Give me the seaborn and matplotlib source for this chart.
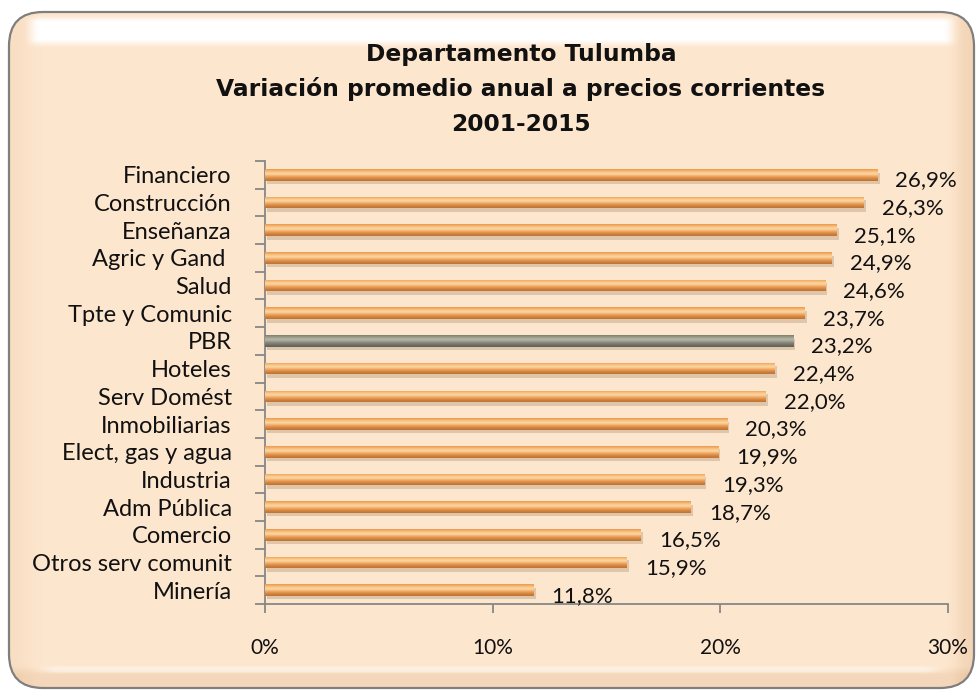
"""Horizontal bar chart: average annual variation by sector, Departamento Tulumba."""

from __future__ import annotations

import matplotlib

matplotlib.use("Agg")
import matplotlib.patheffects as pe
import matplotlib.pyplot as plt
import numpy as np
import pandas as pd
import seaborn as sns
from matplotlib.colors import LinearSegmentedColormap, to_rgb
from matplotlib.patches import FancyBboxPatch

SECTORS = [
    "Financiero",
    "Construcción",
    "Enseñanza",
    "Agric y Gand ",
    "Salud",
    "Tpte y Comunic",
    "PBR",
    "Hoteles",
    "Serv Domést",
    "Inmobiliarias",
    "Elect, gas y agua",
    "Industria",
    "Adm Pública",
    "Comercio",
    "Otros serv comunit",
    "Minería",
]
VARIATION = [26.9, 26.3, 25.1, 24.9, 24.6, 23.7, 23.2, 22.4, 22.0, 20.3, 19.9, 19.3, 18.7, 16.5, 15.9, 11.8]
X_TICKS = [0, 10, 20, 30]
TITLE_LINES = [
    "Departamento Tulumba",
    "Variación promedio anual a precios corrientes",
    "2001-2015",
]
HIGHLIGHT = "PBR"

FONT = ["Lato", "DejaVu Sans"]
TITLE_FONT = ["DejaVu Sans"]
PANEL_COLOR = "#FDE6CE"
SHADE_COLOR = "#EBC6A2"
AXIS_GREY = "#878787"
ORANGE_STOPS = ["#EC974A", "#F7BE7C", "#FCDAA8", "#F2A862", "#D5863F", "#B97236"]
GREY_STOPS = ["#7C7C6C", "#A3A394", "#B8B8AA", "#8E8E7E", "#72726A", "#5E5E56"]

W, H = 977, 693


def paint_gradient(axis: plt.Axes, patch, stops: list[str]) -> None:
    """Fill a bar patch with a vertical cylinder-like gradient."""
    cmap = LinearSegmentedColormap.from_list("bar", stops)
    x0, y0 = patch.get_x(), patch.get_y()
    w, h = patch.get_width(), patch.get_height()
    grad = np.linspace(0, 1, 64).reshape(-1, 1)
    img = axis.imshow(
        grad,
        cmap=cmap,
        aspect="auto",
        extent=(x0, x0 + w, y0 + h, y0),
        origin="upper",
        zorder=3,
        interpolation="bicubic",
    )
    img.set_clip_path(patch)
    patch.set_facecolor("none")
    patch.set_edgecolor("none")
    patch.set_path_effects(
        [pe.SimplePatchShadow(offset=(1.5, -2.5), shadow_rgbFace="#A88866", alpha=0.35), pe.Normal()]
    )


def ramp(v: np.ndarray, start: float, end: float) -> np.ndarray:
    """0 at start, 1 at end, clipped, smooth."""
    t = np.clip((v - start) / (end - start), 0, 1)
    return t * t * (3 - 2 * t)


def draw_panel(fig: plt.Figure) -> None:
    """Rounded peach chart area with a soft bevel like the office chart frame."""
    bg = fig.add_axes([0, 0, 1, 1], zorder=-5)
    bg.set_xlim(0, W)
    bg.set_ylim(H, 0)
    bg.axis("off")

    yy, xx = np.mgrid[0:H, 0:W].astype(float)
    dark = 0.55 * ramp(xx, 945, 972) + 0.25 * ramp(-xx, -42, -12) + 0.45 * ramp(yy, 664, 676)
    dark = np.clip(dark, 0, 1)
    light = ramp(yy, 14, 22) * ramp(-yy, -48, -38) * ramp(xx, 22, 40) * ramp(-xx, -960, -942)
    light = np.maximum(light, 0.5 * ramp(yy, 664, 668) * ramp(-yy, -674, -670) * ramp(xx, 30, 60) * ramp(-xx, -950, -920))

    base = np.array(to_rgb(PANEL_COLOR))
    shade = np.array(to_rgb(SHADE_COLOR))
    rgb = base * (1 - dark[..., None]) + shade * dark[..., None]
    rgb = rgb * (1 - light[..., None]) + light[..., None]

    panel = FancyBboxPatch(
        (9, 12), 965, 676,
        boxstyle="round,pad=0,rounding_size=34",
        facecolor="none", edgecolor="#7F7F7F", linewidth=1.6, zorder=2,
    )
    bg.add_patch(panel)
    img = bg.imshow(rgb, extent=(0, W, H, 0), interpolation="bilinear", zorder=1)
    img.set_clip_path(panel)


def main() -> None:
    sns.set_theme(style="white")
    plt.rcParams["font.family"] = FONT

    data = pd.DataFrame({"sector": SECTORS, "variation": VARIATION})

    fig = plt.figure(figsize=(W / 100, H / 100), dpi=100)
    fig.patch.set_facecolor("white")
    draw_panel(fig)

    axis = fig.add_axes([265 / W, 1 - 604 / H, 683 / W, 443 / H])
    axis.set_facecolor("none")

    sns.barplot(
        data=data,
        x="variation",
        y="sector",
        order=SECTORS,
        orient="h",
        width=0.42,
        color="#EDA464",
        ax=axis,
    )

    for patch, name, value in zip(axis.patches, SECTORS, VARIATION):
        stops = GREY_STOPS if name == HIGHLIGHT else ORANGE_STOPS
        paint_gradient(axis, patch, stops)
        axis.annotate(
            f"{value:.1f}%".replace(".", ","),
            xy=(value, patch.get_y() + patch.get_height() / 2),
            xytext=(13, -4),
            textcoords="offset points",
            ha="left",
            va="center",
            fontsize=16,
            color="#111111",
        )

    axis.set_xlim(0, 30)
    axis.set_ylim(len(SECTORS) - 0.5, -0.5)
    axis.set_xticks(X_TICKS)
    axis.set_xticklabels([f"{t}%" for t in X_TICKS], fontsize=15, color="#111111")
    axis.tick_params(axis="x", direction="out", length=6.5, width=1.3, color=AXIS_GREY, pad=18, bottom=True)

    axis.set_yticks(range(len(SECTORS)))
    axis.set_yticklabels(SECTORS, fontsize=17, color="#111111")
    axis.tick_params(axis="y", which="major", length=0, pad=24)
    axis.set_yticks(np.arange(-0.5, len(SECTORS)), minor=True)
    axis.tick_params(axis="y", which="minor", direction="out", length=7, width=1.3, color=AXIS_GREY, left=True)

    for side in ["top", "right"]:
        axis.spines[side].set_visible(False)
    for side in ["left", "bottom"]:
        axis.spines[side].set_color(AXIS_GREY)
        axis.spines[side].set_linewidth(1.3)
    axis.set_xlabel("")
    axis.set_ylabel("")

    for line, baseline in zip(TITLE_LINES, [61, 96, 131]):
        fig.text(521 / W, 1 - baseline / H, line, ha="center", va="baseline", fontsize=16.8,
                 fontweight="bold", color="#111111", family=TITLE_FONT)

    fig.savefig("out.png", dpi=100, facecolor=fig.get_facecolor())


if __name__ == "__main__":
    main()
